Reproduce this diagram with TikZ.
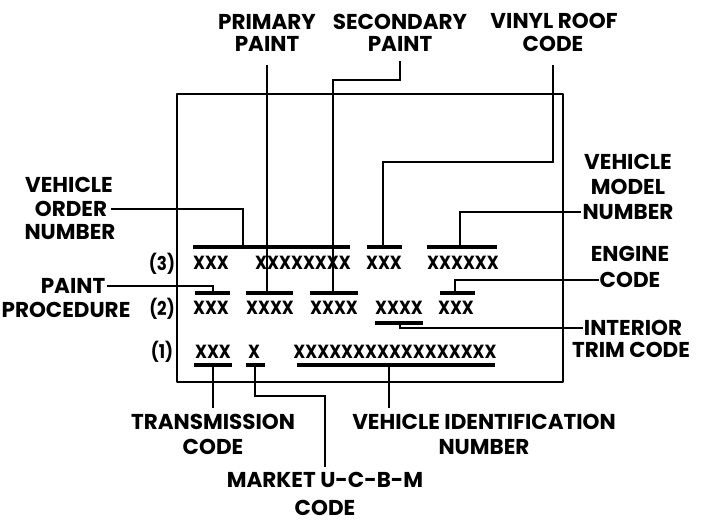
\documentclass[tikz,border=0pt]{standalone}
\usepackage{fontspec}
\setmainfont{Poppins}
\newfontfamily\xfamily{Poppins}[FakeStretch=0.88]
\newcommand\lblfont{\fontsize{21.5}{24}\selectfont\bfseries}
\newcommand\xfont{\xfamily\fontsize{19}{22}\selectfont\bfseries}
\begin{document}
\begin{tikzpicture}[x=1pt,y=-1pt,
  lbl/.style={font=\lblfont, inner sep=0pt, text height=15pt, text depth=0pt},
  xs/.style={font=\xfont, inner sep=0pt, text height=13pt, text depth=0pt},
  conn/.style={line width=2.7pt, line cap=rect},
  bar/.style={line width=3.8pt},
  frame/.style={line width=2.7pt, line join=round}]
\useasboundingbox (0,0) rectangle (704,526);
% frame
\draw[frame] (177,94) rectangle (563,382);
% labels
\node[lbl] (primA) at (267,22) {PRIMARY};
\node[lbl] (primB) at (267,44) {PAINT};
\node[lbl] (secA) at (400,22) {SECONDARY};
\node[lbl] (secB) at (400,44) {PAINT};
\node[lbl] (vinA) at (554,21) {VINYL ROOF};
\node[lbl] (vinB) at (553,44) {CODE};
\node[lbl] (modA) at (628,162) {VEHICLE};
\node[lbl] (modB) at (628,187) {MODEL};
\node[lbl] (modC) at (628,212) {NUMBER};
\node[lbl] (engA) at (630,254) {ENGINE};
\node[lbl] (engB) at (630,280) {CODE};
\node[lbl] (intA) at (633,328) {INTERIOR};
\node[lbl] (intB) at (631,350) {TRIM CODE};
\node[lbl] (ordA) at (69,185) {VEHICLE};
\node[lbl] (ordB) at (71,209) {ORDER};
\node[lbl] (ordC) at (70,232) {NUMBER};
\node[lbl] (ppA) at (73,286) {PAINT};
\node[lbl] (ppB) at (66,310) {PROCEDURE};
\node[lbl] (trA) at (213,422) {TRANSMISSION};
\node[lbl] (trB) at (213,447) {CODE};
\node[lbl] (mkA) at (325,480) {MARKET U-C-B-M};
\node[lbl] (mkB) at (325,508) {CODE};
\node[lbl] (viA) at (484,422) {VEHICLE IDENTIFICATION};
\node[lbl] (viB) at (484,447) {NUMBER};
% row markers
\node[xs] (r3) at (162,264) {(3)};
\node[xs] (r2) at (162,309) {(2)};
\node[xs] (r1) at (162,352) {(1)};
% X codes
\node[xs] (x3a) at (211,263) {XXX};
\node[xs] (x3b) at (303,263) {XXXXXXXX};
\node[xs] (x3c) at (384,263) {XXX};
\node[xs] (x3d) at (463,263) {XXXXXX};
\node[xs] (x2a) at (211,308) {XXX};
\node[xs] (x2b) at (270,308) {XXXX};
\node[xs] (x2c) at (334,308) {XXXX};
\node[xs] (x2d) at (399,308) {XXXX};
\node[xs] (x2e) at (456,308) {XXX};
\node[xs] (x1a) at (213,352) {XXX};
\node[xs] (x1b) at (254,352) {X};
\node[xs] (x1c) at (395,352) {XXXXXXXXXXXXXXXXX};
% bars
\draw[bar] (193,247) -- (350,247);
\draw[bar] (367,247) -- (402,247);
\draw[bar] (427,247) -- (497,247);
\draw[bar] (195,293) -- (230,293);
\draw[bar] (246,293) -- (293,293);
\draw[bar] (310,293) -- (358,293);
\draw[bar] (440,293) -- (475,293);
\draw[bar] (375,323) -- (423,323);
\draw[bar] (194,365) -- (232,365);
\draw[bar] (246,365) -- (265,365);
\draw[bar] (297,365) -- (495,365);
% connection points
\coordinate (cOrd) at (243,247);
\coordinate (cPrim) at (267,293);
\coordinate (cSec) at (333,293);
\coordinate (kSec) at (333,80);
\coordinate (cVin) at (383,247);
\coordinate (kVin) at (553,162);
\coordinate (cMod) at (460,247);
\coordinate (cEng) at (455,293);
\coordinate (cInt) at (400,323);
\coordinate (cPP) at (213,293);
\coordinate (cTr) at (213,365);
\coordinate (cMk) at (255,365);
\coordinate (kMk) at (255,396);
\coordinate (cVi) at (389,365);
% connectors
\draw[conn] (ordB.east) ++(5,0) -| (cOrd);
\draw[conn] (ppA.east) ++(3,0) -| (cPP);
\draw[conn] (cPrim |- primB.south) ++(0,15) -- (cPrim);
\draw[conn] (secB.south) ++(0,11) |- (kSec) -- (cSec);
\draw[conn] (kVin |- vinB.south) ++(0,15) -- (kVin) -| (cVin);
\draw[conn] (modC.west) ++(-3,0) -| (cMod);
\draw[conn] (engB.west) ++(-2,0) -| (cEng);
\draw[conn] (intA.west) ++(-2,0) -| (cInt);
\draw[conn] (trA.north) ++(0,-8) -- (cTr);
\draw[conn] (cMk) -- (kMk) -| ([yshift=7pt]mkA.north);
\draw[conn] (cVi |- viA.north) ++(0,-8) -- (cVi);
\end{tikzpicture}
\end{document}
